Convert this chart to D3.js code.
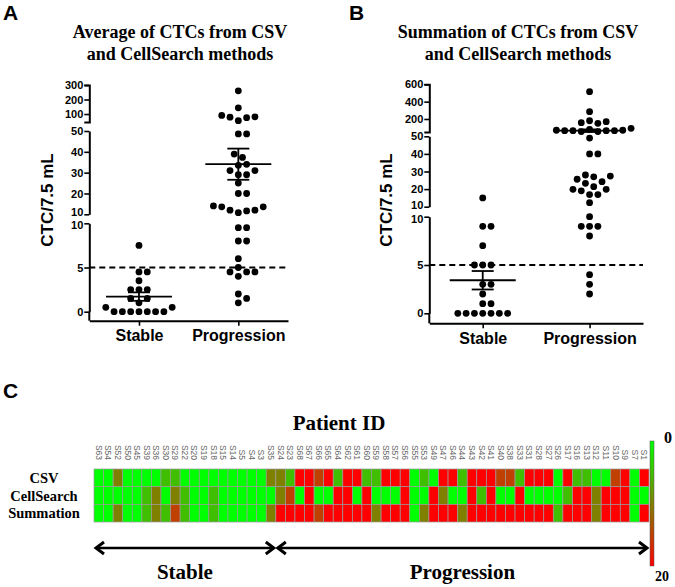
<!DOCTYPE html>
<html>
<head>
<meta charset="utf-8">
<script src="https://cdn.jsdelivr.net/npm/d3@7"></script>
<style>
  body { margin: 0; background: #fff; }
  svg { display: block; }
</style>
</head>
<body>
<div id="chart"></div>
<script>
// ---- scatter data (CTC / 7.5 mL) ----
const groups = ['Stable', 'Progression']

const stableAvg = [7.5, 4.5, 4.5, 3.5, 2.5, 2.5, 2.5, 1.5, 1.5, 1, 0.5, 0.5, 0, 0, 0, 0, 0, 0, 0]
const progAvg = [260, 143, 90, 81, 78, 75, 54, 48.6, 48.6, 38.9, 37.3, 34, 33.5, 31, 31, 29, 29, 25,
  20, 20, 14, 13.6, 13.6, 12, 12, 11.6, 10.8, 9.5, 9.5, 8, 8, 6, 5, 4.5, 4.5, 4.5, 4, 2, 1.5, 1]

const stableSum = [15, 9, 9, 7, 5, 5, 5, 3, 3, 2, 1, 1, 0, 0, 0, 0, 0, 0, 0]
const progSum = [515, 284, 180, 169, 157, 150, 92, 80, 70, 70, 65, 65, 65, 65, 55, 55, 49, 40, 40,
  28, 27.4, 27, 25.6, 24.2, 23.3, 21.4, 19.9, 19.9, 19, 16.9, 16.9, 12.3, 10, 9, 9, 9, 8, 4, 3, 2]

const cutoff = 5

// ---- heatmap data ----
const stablePatients = ['S63', 'S54', 'S52', 'S50', 'S45', 'S39', 'S36', 'S30', 'S29', 'S22', 'S20',
  'S19', 'S18', 'S15', 'S14', 'S5', 'S4', 'S3', 'S35']
const progPatients = ['S24', 'S23', 'S68', 'S67', 'S66', 'S65', 'S64', 'S62', 'S61', 'S60', 'S59',
  'S58', 'S57', 'S56', 'S55', 'S53', 'S49', 'S47', 'S46', 'S44', 'S43', 'S42', 'S41', 'S40', 'S38',
  'S33', 'S31', 'S28', 'S27', 'S26', 'S17', 'S16', 'S13', 'S12', 'S11', 'S10', 'S9', 'S7', 'S1']
const methods = ['CSV', 'CellSearch', 'Summation']

const csvCounts = [0, 0, 10, 0, 0, 0, 0, 5, 5, 0, 0, 0, 0, 0, 0, 0, 0, 0, 10,
  10, 5, 20, 20, 15, 20, 5, 20, 20, 5, 5, 20, 20, 20, 0, 5, 0, 20, 20, 5, 20, 20, 20, 15, 15, 5,
  20, 20, 20, 0, 20, 5, 5, 0, 0, 15, 20, 0, 20]
const cellSearchCounts = [0, 0, 0, 0, 0, 5, 10, 0, 10, 5, 0, 0, 5, 0, 0, 0, 0, 0, 0,
  10, 15, 0, 20, 0, 0, 20, 20, 0, 20, 0, 0, 0, 20, 0, 0, 20, 10, 0, 0, 20, 5, 20, 0, 0, 20,
  0, 0, 0, 0, 5, 20, 20, 10, 20, 20, 20, 0, 0]
const sumCounts = [0, 0, 10, 0, 0, 5, 10, 5, 15, 5, 0, 0, 5, 0, 0, 0, 0, 0, 10,
  20, 20, 20, 20, 15, 20, 20, 20, 20, 20, 10, 20, 20, 20, 0, 10, 20, 20, 20, 10, 20, 20, 20, 20, 20, 20,
  20, 20, 20, 5, 20, 20, 20, 10, 20, 20, 20, 0, 20]
const colorDomain = [0, 20]

// ---- svg ----
const svg = d3.select('#chart')
  .append('svg')
  .attr('width', 675)
  .attr('height', 587)

const sans = 'Liberation Sans, Arial, sans-serif'
const serif = 'Liberation Serif, Times New Roman, serif'

const panels = [
  {
    letter: 'A', letterX: 3,
    title: ['Average of CTCs from CSV', 'and CellSearch methods'], titleX: 180,
    stable: stableAvg, prog: progAvg,
    axisX: 89.3, xEnd: 288, baseY: 320.7, labelX: 53,
    segments: [
      { domain: [0, 10], range: [311.7, 223.3], ticks: [0, 5, 10] },
      { domain: [10, 50], range: [214.3, 131], ticks: [10, 20, 30, 40, 50] },
      { domain: [45, 300], range: [122, 85], ticks: [100, 200, 300], cap: true }
    ]
  },
  {
    letter: 'B', letterX: 349,
    title: ['Summation of CTCs from CSV', 'and CellSearch methods'], titleX: 518,
    stable: stableSum, prog: progSum,
    axisX: 429.3, xEnd: 643, baseY: 323.3, labelX: 392,
    segments: [
      { domain: [0, 10], range: [313.3, 216.7], ticks: [0, 5, 10] },
      { domain: [10, 50], range: [206.7, 136.3], ticks: [10, 20, 30, 40, 50] },
      { domain: [50, 600], range: [132, 84.3], ticks: [200, 400, 600], cap: true }
    ]
  }
]

// simple beeswarm: push dots sideways until they don't overlap
function swarm(values, cx, yFor, r) {
  const step = 2 * r + 1.5
  const placed = []
  const pts = values.map(v => ({ v: v, y: yFor(v) })).sort((a, b) => b.y - a.y)
  pts.forEach(p => {
    for (let k = 0; k < 60; k++) {
      const off = (k === 0 ? 0 : Math.ceil(k / 2) * (k % 2 ? 1 : -1)) * step / 2
      const x = cx + off
      const ok = placed.every(q => (q.x - x) * (q.x - x) + (q.y - p.y) * (q.y - p.y) >= step * step * 0.92)
      if (ok) { p.x = x; break }
    }
    placed.push(p)
  })
  return placed
}

panels.forEach(p => {
  const g = svg.append('g')

  g.append('text')
    .attr('x', p.letterX).attr('y', 20)
    .attr('font-family', sans).attr('font-weight', 'bold').attr('font-size', 21)
    .text(p.letter)

  g.selectAll('.title')
    .data(p.title)
    .enter()
    .append('text')
    .attr('x', p.titleX)
    .attr('y', (d, i) => 38 + i * 22)
    .attr('text-anchor', 'middle')
    .attr('font-family', serif).attr('font-weight', 'bold').attr('font-size', 18)
    .text(d => d)

  const scales = p.segments.map(s => d3.scaleLinear().domain(s.domain).range(s.range))
  const yFor = v => {
    const i = p.segments.findIndex(s => v <= s.domain[1])
    return scales[i](v)
  }

  // broken y axis, one piece per segment
  p.segments.forEach((s, i) => {
    const ax = g.append('g')
      .attr('transform', 'translate(' + p.axisX + ',0)')
      .call(d3.axisLeft(scales[i]).tickValues(s.ticks).tickFormat(d3.format('d'))
        .tickSize(5).tickSizeOuter(s.cap ? 5 : 0))
    ax.select('.domain').attr('stroke-width', 2)
    ax.selectAll('.tick line').attr('stroke-width', 1.6)
    ax.selectAll('.tick text')
      .attr('font-family', sans).attr('font-weight', 'bold').attr('font-size', 11)
      .attr('fill', '#000').attr('x', -6)
    // spread the two "10" labels at the break a little apart
    ax.selectAll('.tick text')
      .filter(d => d === 10)
      .attr('transform', 'translate(0,' + (i === 0 ? 2 : -2) + ')')
    if (i === 0) {
      ax.append('line')
        .attr('y1', s.range[0]).attr('y2', p.baseY)
        .attr('stroke', '#000').attr('stroke-width', 2)
    }
  })

  g.append('text')
    .attr('transform', 'translate(' + p.labelX + ',200) rotate(-90)')
    .attr('text-anchor', 'middle')
    .attr('font-family', sans).attr('font-weight', 'bold').attr('font-size', 17)
    .text('CTC/7.5 mL')

  const x = d3.scalePoint().domain(groups).range([p.axisX, p.xEnd]).padding(0.5)
  const xa = g.append('g')
    .attr('transform', 'translate(0,' + p.baseY + ')')
    .call(d3.axisBottom(x).tickSize(5).tickSizeOuter(0))
  xa.select('.domain').attr('stroke-width', 2)
  xa.selectAll('.tick line').attr('stroke-width', 1.6)
  xa.selectAll('.tick text')
    .attr('font-family', sans).attr('font-weight', 'bold').attr('font-size', 16)
    .attr('fill', '#000').attr('y', 9)

  // cut-off line at 5 CTCs
  g.append('line')
    .attr('x1', p.axisX).attr('x2', p.xEnd)
    .attr('y1', yFor(cutoff)).attr('y2', yFor(cutoff))
    .attr('stroke', '#000').attr('stroke-width', 2)
    .attr('stroke-dasharray', '6,4')

  const sets = [p.stable, p.prog]
  sets.forEach((vals, gi) => {
    const cx = x(groups[gi])
    const dots = swarm(vals, cx, yFor, 3.4)
    g.selectAll('.dot' + gi)
      .data(dots)
      .enter()
      .append('circle')
      .attr('cx', d => d.x)
      .attr('cy', d => d.y)
      .attr('r', 3.4)
      .attr('fill', '#000')

    // mean with SEM
    const mean = d3.mean(vals)
    const sem = d3.deviation(vals) / Math.sqrt(vals.length)
    const stroke = '#000'
    g.append('line')
      .attr('x1', cx - 33).attr('x2', cx + 33)
      .attr('y1', yFor(mean)).attr('y2', yFor(mean))
      .attr('stroke', stroke).attr('stroke-width', 1.8)
    g.append('line')
      .attr('x1', cx).attr('x2', cx)
      .attr('y1', yFor(mean - sem)).attr('y2', yFor(mean + sem))
      .attr('stroke', stroke).attr('stroke-width', 1.8)
    ;[mean - sem, mean + sem].forEach(v => {
      g.append('line')
        .attr('x1', cx - 11).attr('x2', cx + 11)
        .attr('y1', yFor(v)).attr('y2', yFor(v))
        .attr('stroke', stroke).attr('stroke-width', 1.8)
    })
  })
})

// ---- panel C: heatmap ----
const patients = stablePatients.concat(progPatients)
const rows = [csvCounts, cellSearchCounts, sumCounts]

const hx = d3.scaleBand().domain(patients).range([94, 649])
const hy = d3.scaleBand().domain(methods).range([469, 522])
const color = d3.scaleLinear().domain(colorDomain).range(['#00ff00', '#ff0000']).clamp(true)

const cells = []
rows.forEach((r, i) => {
  r.forEach((v, j) => cells.push({ method: methods[i], patient: patients[j], value: v }))
})

svg.append('text')
  .attr('x', 3).attr('y', 398)
  .attr('font-family', sans).attr('font-weight', 'bold').attr('font-size', 21)
  .text('C')

svg.append('text')
  .attr('x', 339).attr('y', 430)
  .attr('text-anchor', 'middle')
  .attr('font-family', serif).attr('font-weight', 'bold').attr('font-size', 21)
  .text('Patient ID')

svg.selectAll('.pid')
  .data(patients)
  .enter()
  .append('text')
  .attr('transform', d => 'translate(' + (hx(d) + hx.bandwidth() / 2) + ',460) rotate(90)')
  .attr('text-anchor', 'end')
  .attr('dy', '0.35em')
  .attr('font-family', sans).attr('font-size', 8.5)
  .attr('fill', '#666')
  .text(d => d)

svg.selectAll('.cell')
  .data(cells)
  .enter()
  .append('rect')
  .attr('x', d => hx(d.patient))
  .attr('y', d => hy(d.method))
  .attr('width', hx.bandwidth())
  .attr('height', hy.bandwidth())
  .attr('fill', d => color(d.value))
  .attr('stroke', '#9a9a9a')
  .attr('stroke-width', 0.7)

svg.selectAll('.rowlab')
  .data(methods)
  .enter()
  .append('text')
  .attr('x', 44)
  .attr('y', d => hy(d) + hy.bandwidth() / 2 + 5)
  .attr('text-anchor', 'middle')
  .attr('font-family', serif).attr('font-weight', 'bold').attr('font-size', 14.5)
  .text(d => d)

// colour bar
const defs = svg.append('defs')
const grad = defs.append('linearGradient')
  .attr('id', 'cbar').attr('x1', 0).attr('x2', 0).attr('y1', 0).attr('y2', 1)
grad.selectAll('stop')
  .data(d3.range(0, 1.01, 0.25))
  .enter()
  .append('stop')
  .attr('offset', d => d)
  .attr('stop-color', d => color(colorDomain[0] + d * (colorDomain[1] - colorDomain[0])))

const cbarY = d3.scaleLinear().domain(colorDomain).range([441, 566])
svg.append('rect')
  .attr('x', 650).attr('y', cbarY(0))
  .attr('width', 4).attr('height', cbarY(20) - cbarY(0))
  .attr('fill', 'url(#cbar)')
  .attr('stroke', '#555').attr('stroke-width', 0.5)

svg.append('text')
  .attr('x', 668).attr('y', cbarY(0) + 2)
  .attr('text-anchor', 'middle')
  .attr('font-family', serif).attr('font-weight', 'bold').attr('font-size', 16)
  .text(colorDomain[0])
svg.append('text')
  .attr('x', 662).attr('y', cbarY(20) + 15)
  .attr('text-anchor', 'middle')
  .attr('font-family', serif).attr('font-weight', 'bold').attr('font-size', 14)
  .text(colorDomain[1])

// group arrows under the heatmap
const arrowY = 548
const spans = [
  { name: 'Stable', x0: hx(stablePatients[0]), x1: hx(stablePatients[stablePatients.length - 1]) + hx.bandwidth() },
  { name: 'Progression', x0: hx(progPatients[0]), x1: hx(progPatients[progPatients.length - 1]) + hx.bandwidth() }
]
spans.forEach(s => {
  const a = s.x0 + 2
  const b = s.x1 - 2
  svg.append('line')
    .attr('x1', a).attr('x2', b)
    .attr('y1', arrowY).attr('y2', arrowY)
    .attr('stroke', '#000').attr('stroke-width', 2.5)
  svg.append('path')
    .attr('d', 'M' + (a + 8) + ',' + (arrowY - 6) + 'L' + a + ',' + arrowY + 'L' + (a + 8) + ',' + (arrowY + 6))
    .attr('fill', 'none').attr('stroke', '#000').attr('stroke-width', 3)
  svg.append('path')
    .attr('d', 'M' + (b - 8) + ',' + (arrowY - 6) + 'L' + b + ',' + arrowY + 'L' + (b - 8) + ',' + (arrowY + 6))
    .attr('fill', 'none').attr('stroke', '#000').attr('stroke-width', 3)
  svg.append('text')
    .attr('x', (s.x0 + s.x1) / 2).attr('y', 579)
    .attr('text-anchor', 'middle')
    .attr('font-family', serif).attr('font-weight', 'bold').attr('font-size', 21)
    .text(s.name)
})
</script>
</body>
</html>
